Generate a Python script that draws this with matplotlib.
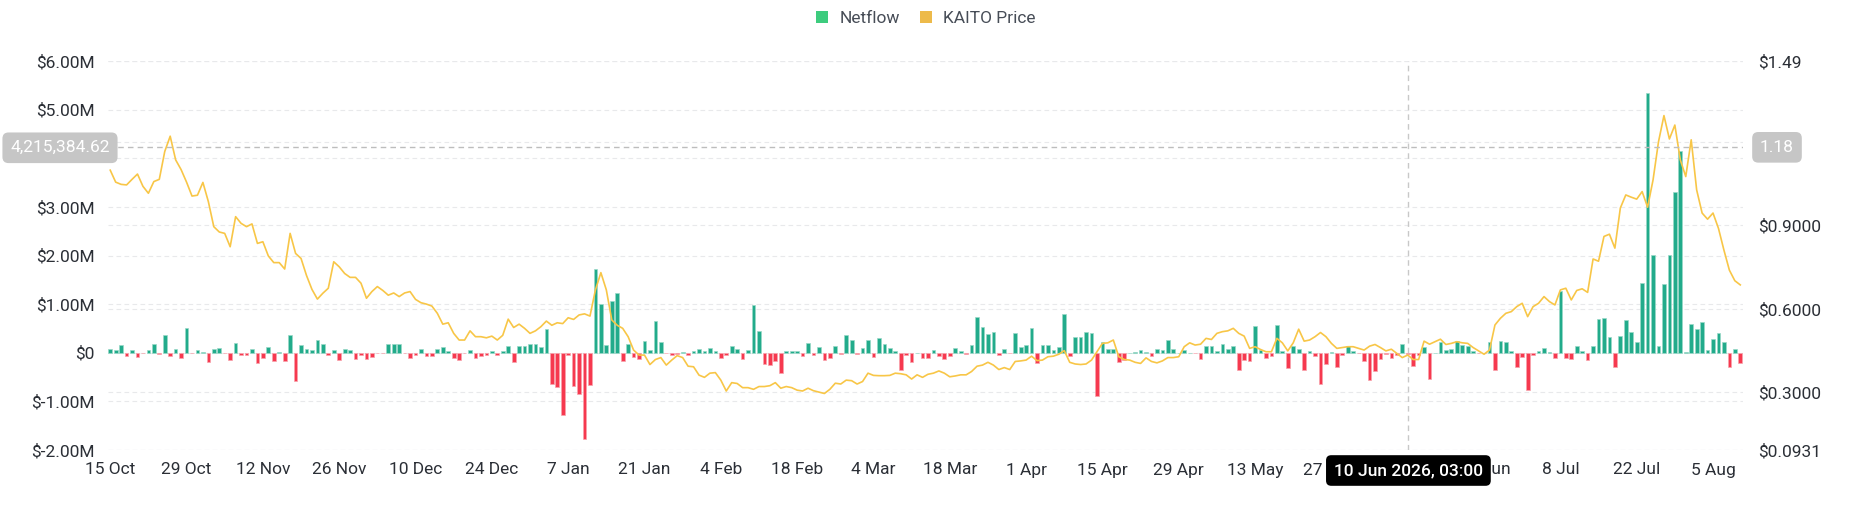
import matplotlib
matplotlib.use('Agg')
import matplotlib.pyplot as plt
import matplotlib.transforms as mtransforms
from matplotlib.patches import Patch
import numpy as np
import pandas as pd

plt.rcParams['font.family'] = ['Roboto', 'DejaVu Sans']

# daily netflow, $M (15 Oct 2025 .. 10 Aug 2026)
netflow = [
    0.076, 0.05, 0.16, -0.07, 0.05, -0.08, -0.01, 0.06, 0.19, -0.03, 0.36, -0.07, 0.07, -0.1, 0.5, -0.01,
    0.05, 0.01, -0.19, 0.07, 0.1, -0.01, -0.15, 0.21, -0.04, -0.05, 0.075, -0.21, -0.11, 0.11, -0.16, 0.02,
    -0.17, 0.36, -0.58, 0.16, 0.08, 0.05,
    0.27, 0.17, -0.05, 0.05, -0.14, 0.08, 0.06, -0.13, -0.05, -0.13, -0.08, -0.01, -0.01, 0.18, 0.18, 0.185,
    -0.01, -0.11, -0.05, 0.07, -0.075, -0.075, 0.07, 0.11, 0.03, -0.1, -0.15, -0.01, 0.05, -0.11, -0.06, -0.05,
    0.035, -0.055, 0.035, 0.13, -0.2, 0.13,
    0.135, 0.18, 0.19, 0.11, 0.48, -0.65, -0.70, -1.29, -0.05, -0.69, -0.85, -1.77, -0.67, 1.72, 1.01, 0.15,
    1.06, 1.23, -0.17, 0.17, -0.08, -0.12, 0.24, 0.05, 0.66, 0.23, -0.01, -0.05, -0.02, 0.01, -0.04, 0.035,
    0.08, 0.03, 0.09, 0.04, -0.11,
    -0.04, 0.145, 0.075, -0.13, 0.05, 0.99, 0.45, -0.23, -0.25, -0.16, -0.42, 0.03, 0.04, 0.04, -0.06, 0.21,
    -0.055, 0.11, -0.14, -0.1, 0.14, -0.03, 0.36, 0.27, -0.02, 0.09, 0.26, -0.08, 0.31, 0.19, 0.09, 0.03,
    -0.36, -0.04, -0.19, 0.005, -0.11, -0.1,
    0.06, -0.06, -0.12, -0.075, 0.09, 0.03, -0.03, 0.15, 0.74, 0.52, 0.38, 0.43, -0.055, 0.07, -0.01, 0.41,
    0.12, 0.16, 0.5, -0.21, 0.165, 0.15, 0.05, 0.12, 0.80, -0.07, 0.32, 0.32, 0.43, 0.40, -0.88, 0.23,
    0.075, 0.07, -0.19, -0.14, 0.005,
    0.01, 0.06, 0.01, -0.06, 0.075, 0.05, 0.27, 0.08, 0.005, 0.05, 0.005, -0.01, -0.12, 0.13, 0.145, 0.03,
    0.185, 0.08, 0.13, -0.35, -0.14, -0.17, 0.56, 0.06, -0.1, -0.07, 0.58, 0.03, -0.32, 0.145, 0.07, -0.35,
    0.03, -0.06, -0.64, -0.23, 0.01, -0.3,
    -0.05, 0.145, 0.035, -0.01, -0.17, -0.56, -0.38, -0.13, -0.035, -0.1, -0.05, 0.19, -0.02, -0.27, -0.055, 0.12,
    -0.53, 0.005, 0.23, 0.05, 0.07, 0.25, 0.15, 0.13, 0.03, -0.01, -0.01, 0.22, -0.36, 0.25, 0.22, 0.03,
    -0.29, -0.09, -0.77, -0.04, 0.03,
    0.10, 0.02, -0.11, 1.26, -0.10, -0.12, 0.145, 0.035, -0.15, 0.145, 0.70, 0.72, 0.32, -0.29, 0.34, 0.68,
    0.42, 0.23, 1.44, 5.34, 2.02, 0.13, 1.41, 2.02, 3.31, 4.14, 0.01, 0.59, 0.48, 0.64, 0.06, 0.29,
    0.40, 0.22, -0.29, 0.08, -0.22,
]

# KAITO price, $
price = [
    1.098, 1.055, 1.047, 1.045, 1.065, 1.084, 1.040, 1.015, 1.057, 1.065, 1.165, 1.220, 1.135, 1.100, 1.055, 1.005,
    1.008, 1.054, 0.985, 0.895, 0.876, 0.871, 0.823, 0.931, 0.907, 0.895, 0.905, 0.835, 0.841, 0.790, 0.766, 0.766,
    0.743, 0.871, 0.799, 0.781, 0.720, 0.670,
    0.635, 0.656, 0.674, 0.769, 0.751, 0.727, 0.713, 0.713, 0.692, 0.638, 0.662, 0.680, 0.666, 0.649, 0.657, 0.644,
    0.657, 0.662, 0.634, 0.622, 0.617, 0.610, 0.584, 0.545, 0.550, 0.512, 0.488, 0.488, 0.521, 0.500, 0.500, 0.496,
    0.502, 0.488, 0.505, 0.563, 0.533, 0.545,
    0.530, 0.512, 0.521, 0.536, 0.556, 0.541, 0.550, 0.547, 0.568, 0.562, 0.578, 0.582, 0.574, 0.668, 0.730, 0.668,
    0.560, 0.541, 0.530, 0.500, 0.452, 0.434, 0.434, 0.400, 0.418, 0.425, 0.398, 0.416, 0.432, 0.425, 0.394, 0.392,
    0.362, 0.354, 0.369, 0.371, 0.344,
    0.305, 0.335, 0.332, 0.317, 0.317, 0.311, 0.321, 0.321, 0.324, 0.335, 0.315, 0.321, 0.317, 0.308, 0.305, 0.315,
    0.306, 0.301, 0.296, 0.311, 0.333, 0.330, 0.344, 0.342, 0.330, 0.339, 0.369, 0.361, 0.360, 0.360, 0.361, 0.369,
    0.367, 0.363, 0.348, 0.363, 0.354, 0.365,
    0.369, 0.377, 0.369, 0.356, 0.359, 0.363, 0.363, 0.375, 0.394, 0.398, 0.408, 0.398, 0.382, 0.389, 0.382, 0.411,
    0.413, 0.416, 0.430, 0.414, 0.416, 0.428, 0.430, 0.437, 0.450, 0.408, 0.402, 0.400, 0.402, 0.416, 0.446, 0.476,
    0.478, 0.488, 0.428, 0.418, 0.416,
    0.408, 0.404, 0.424, 0.411, 0.406, 0.413, 0.425, 0.425, 0.428, 0.464, 0.478, 0.470, 0.473, 0.494, 0.490, 0.512,
    0.518, 0.521, 0.530, 0.512, 0.502, 0.458, 0.464, 0.454, 0.446, 0.446, 0.494, 0.478, 0.449, 0.478, 0.527, 0.484,
    0.488, 0.500, 0.515, 0.500, 0.476, 0.458,
    0.461, 0.464, 0.464, 0.458, 0.452, 0.466, 0.472, 0.461, 0.449, 0.455, 0.440, 0.425, 0.434, 0.418, 0.418, 0.484,
    0.473, 0.482, 0.491, 0.472, 0.476, 0.482, 0.478, 0.476, 0.461, 0.449, 0.437, 0.452, 0.542, 0.566, 0.584, 0.590,
    0.608, 0.620, 0.572, 0.608, 0.620,
    0.644, 0.626, 0.614, 0.668, 0.674, 0.632, 0.666, 0.672, 0.659, 0.779, 0.771, 0.860, 0.868, 0.818, 0.962, 1.009,
    1.001, 0.994, 1.021, 0.965, 1.063, 1.200, 1.294, 1.210, 1.260, 1.135, 1.075, 1.207, 1.027, 0.944, 0.922, 0.944,
    0.889, 0.811, 0.739, 0.701, 0.686,
]

start_date = pd.Timestamp('2025-10-15')
dates = pd.date_range(start_date, periods=len(netflow), freq='D')

flow_ticks = [-2, -1, 0, 1, 2, 3, 4, 5, 6]
price_ticks = [0.0931, 0.30, 0.60, 0.90, 1.20, 1.49]
price_labels = ['$0.0931', '$0.3000', '$0.6000', '$0.9000', '', '$1.49']

hover_time = pd.Timestamp('2026-06-10 03:00')
hover_flow = 4215384.62
hover_price = 1.18

GREEN = '#22ab8b'
RED = '#f6394f'
LINE = '#f8c647'
GRID = '#e8e9eb'
TXT = '#2b2f36'
FS = 12.5

x = np.arange(len(netflow))
flow = np.array(netflow)

fig = plt.figure(figsize=(18.52, 5.25), dpi=100)
ax = fig.add_axes([107.5 / 1852, 1 - 450 / 525, (1743 - 107.5) / 1852, 389 / 525])
axg = ax.twinx()   # price grid, below bars
ax2 = ax.twinx()   # price line + overlays
axg.set_zorder(0)
ax.set_zorder(1)
ax2.set_zorder(2)
ax.patch.set_visible(False)

dash = (0, (4.2, 3))

# bars
cols = [GREEN if v >= 0 else RED for v in flow]
edges = ['#9ad9c8' if v >= 0 else '#f8a3ad' for v in flow]
ax.bar(x, flow, width=0.68, color=cols, edgecolor=edges, linewidth=0.5, zorder=3)
ax.set_xlim(-0.5, len(x) - 0.5)
ax.set_ylim(-2, 6)
ax.set_yticks(flow_ticks)
ax.set_yticklabels(['' if v == 4 else ('$0' if v == 0 else f'${v:.2f}M') for v in flow_ticks])
ax.grid(axis='y', color=GRID, lw=0.8, linestyle=dash)
ax.set_axisbelow(True)

# crosshair position (days from start)
hx = (hover_time - start_date) / pd.Timedelta(days=1)

tick_idx = x[::14]
ax.set_xticks(tick_idx)
# the tick under the hover tooltip is hidden, as in the source chart
ax.set_xticklabels(['' if abs(i - hx) < 1 else f'{d.day} {d:%b}' for i, d in zip(tick_idx, dates[tick_idx])])
ax.tick_params(axis='x', length=0, pad=9, labelsize=FS, colors=TXT)
ax.tick_params(axis='y', length=0, pad=9, labelsize=FS, colors=TXT)

# price grid
axg.set_ylim(0.0931, 1.49)
axg.set_yticks(price_ticks)
axg.grid(axis='y', color=GRID, lw=0.8, linestyle=dash)
axg.tick_params(axis='y', length=0, labelright=False)

# price line
ax2.plot(x, price, color=LINE, lw=1.2, zorder=3)
ax2.set_ylim(0.0931, 1.49)
ax2.set_yticks(price_ticks)
ax2.set_yticklabels(price_labels)
ax2.tick_params(axis='y', length=0, pad=11, labelsize=FS, colors=TXT)

for a in (ax, axg, ax2):
    for s in a.spines.values():
        s.set_visible(False)

# crosshair
ax2.axhline(hover_price, color='#bdbdbd', lw=1.0, linestyle=(0, (4, 3)), zorder=4)
ax2.axvline(hx, color='#c8c8c8', lw=1.0, linestyle=(0, (4, 3)), zorder=4)

tl = mtransforms.blended_transform_factory(fig.transFigure, ax.transData)
ax2.text(60 / 1852, hover_flow / 1e6, f'{hover_flow:,.2f}', transform=tl, ha='center', va='center',
         fontsize=FS, color='white', zorder=6, clip_on=False,
         bbox=dict(boxstyle='round,pad=0.45,rounding_size=0.35', fc='#c6c6c6', ec='none'))
tr = mtransforms.blended_transform_factory(fig.transFigure, ax2.transData)
ax2.text(1777 / 1852, hover_price, f'{hover_price:.2f}', transform=tr, ha='center', va='center',
         fontsize=FS, color='white', zorder=6, clip_on=False,
         bbox=dict(boxstyle='round,pad=0.45,rounding_size=0.35', fc='#c6c6c6', ec='none'))
tb = mtransforms.blended_transform_factory(ax.transData, fig.transFigure)
ax2.text(hx, 1 - 470.5 / 525, hover_time.strftime('%-d %b %Y, %H:%M'), transform=tb, ha='center', va='center',
         fontsize=FS, color='white', fontweight='medium', zorder=6, clip_on=False,
         bbox=dict(boxstyle='round,pad=0.45,rounding_size=0.3', fc='black', ec='none'))

# legend
fig.legend(handles=[Patch(fc='#3dcc7e'), Patch(fc='#edba4a')], labels=['Netflow', 'KAITO Price'],
           loc='center', bbox_to_anchor=(0.5, 1 - 18.5 / 525), ncol=2, frameon=False, fontsize=FS,
           handlelength=0.7, handleheight=0.7, handletextpad=0.65, columnspacing=1.15, labelcolor='#474d57')

fig.savefig('out.png', dpi=100)
